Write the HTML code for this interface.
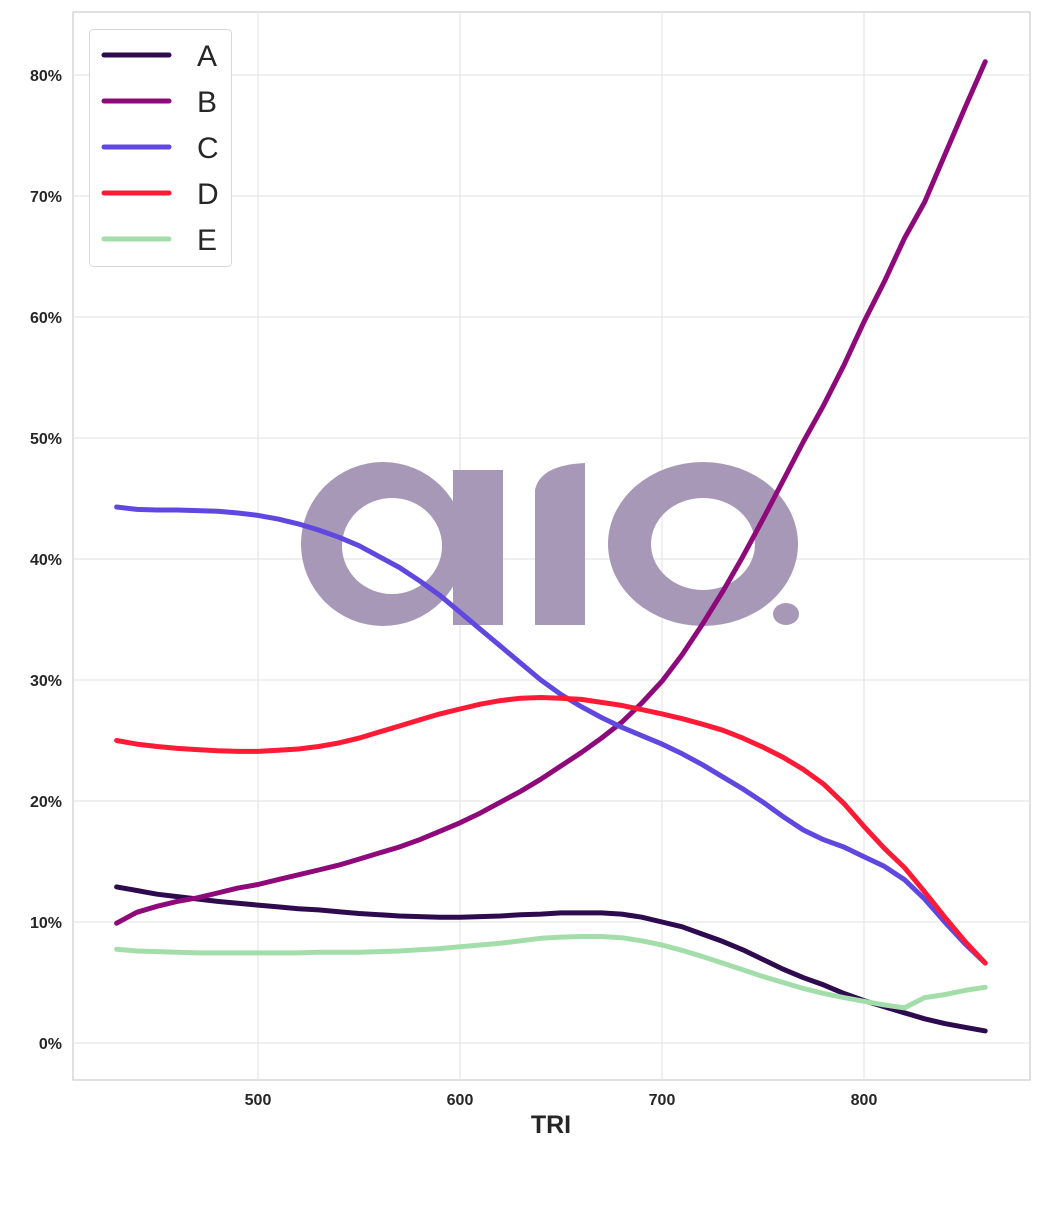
<!DOCTYPE html>
<html><head><meta charset="utf-8"><style>
body{margin:0;background:#fff;font-family:"Liberation Sans","DejaVu Sans",sans-serif}
</style></head><body>
<svg id="chart" width="1040" height="1200" xmlns="http://www.w3.org/2000/svg">
<rect x="73" y="12" width="957" height="1068" fill="#fff" stroke="#cccccc" stroke-width="1.2"/>
<g id="grid"></g>
<g id="watermark" fill="#a898b8" fill-rule="evenodd">
<path d="M383,462 a82,82 0 1 0 0,164 a82,82 0 1 0 0,-164 Z M392,498 a50,48 0 1 1 0,96 a50,48 0 1 1 0,-96 Z" />
<rect x="453" y="470" width="50" height="155"/>
<rect x="300" y="462" width="153" height="50" fill="none"/>
<path d="M535,490 Q540,465 585,463 L585,625 L535,625 Z"/>
<path d="M703,462 a95,82 0 1 0 0,164 a95,82 0 1 0 0,-164 Z M703,498 a52,46 0 1 1 0,92 a52,46 0 1 1 0,-92 Z"/>
<ellipse cx="786" cy="614" rx="13" ry="11"/>
</g>
<g id="series"></g>
<g id="xticks"></g>
<g id="yticks"></g>
<text x="551" y="1133" font-size="25" font-weight="bold" fill="#262626" text-anchor="middle">TRI</text>
<g id="legend">
<rect x="89.5" y="29.5" width="142" height="237" rx="4" fill="#fff" stroke="#d8d8d8"/>
</g>
</svg>
<script>
const xs=[430,440,450,460,470,480,490,500,510,520,530,540,550,560,570,580,590,600,610,620,630,640,650,660,670,680,690,700,710,720,730,740,750,760,770,780,790,800,810,820,830,840,850,860];
const seriesA=[12.9,12.6,12.3,12.1,11.9,11.7,11.55,11.4,11.25,11.1,11.0,10.85,10.7,10.6,10.5,10.45,10.4,10.4,10.45,10.5,10.6,10.65,10.75,10.75,10.75,10.65,10.4,10.0,9.6,9.0,8.4,7.7,6.9,6.1,5.4,4.8,4.1,3.5,3.0,2.5,2.0,1.6,1.3,1.0];
const seriesB=[9.9,10.8,11.3,11.7,12.0,12.4,12.8,13.1,13.5,13.9,14.3,14.7,15.2,15.7,16.2,16.8,17.5,18.2,19.0,19.9,20.8,21.8,22.9,24.0,25.2,26.5,28.1,29.9,32.1,34.6,37.3,40.2,43.3,46.5,49.7,52.7,56.0,59.6,62.9,66.5,69.5,73.4,77.3,81.1];
const seriesC=[44.3,44.1,44.05,44.05,44.0,43.95,43.8,43.6,43.3,42.9,42.4,41.8,41.1,40.2,39.3,38.2,37.0,35.6,34.2,32.8,31.4,30.0,28.8,27.8,26.9,26.1,25.4,24.7,23.9,23.0,22.0,21.0,19.9,18.7,17.6,16.8,16.2,15.4,14.6,13.5,11.9,10.0,8.2,6.6];
const seriesD=[25.0,24.7,24.5,24.35,24.25,24.15,24.1,24.1,24.2,24.3,24.5,24.8,25.2,25.7,26.2,26.7,27.2,27.6,28.0,28.3,28.5,28.55,28.5,28.4,28.15,27.9,27.55,27.2,26.8,26.35,25.85,25.2,24.45,23.6,22.6,21.4,19.8,17.9,16.1,14.5,12.5,10.4,8.4,6.6];
const seriesE=[7.75,7.6,7.55,7.5,7.45,7.45,7.45,7.45,7.45,7.45,7.5,7.5,7.5,7.55,7.6,7.7,7.8,7.95,8.1,8.25,8.45,8.65,8.75,8.8,8.8,8.7,8.45,8.1,7.65,7.15,6.6,6.05,5.5,5.0,4.5,4.1,3.75,3.45,3.15,2.9,3.75,4.0,4.35,4.6];
const seriesNames=["A","B","C","D","E"];
const xTicks=[500,600,700,800];
const yTicks=[0,10,20,30,40,50,60,70,80];
const colors=["#2e0a4f","#8e0a7a","#5f47e0","#ff1a35","#a3deaa"];
const NS="http://www.w3.org/2000/svg";
const xS=v=>258+(v-500)*2.02;
const yS=v=>1043-v*12.1;
function mk(tag,attrs,parent){const e=document.createElementNS(NS,tag);for(const k in attrs)e.setAttribute(k,attrs[k]);parent.appendChild(e);return e;}
const grid=document.getElementById('grid'),xt=document.getElementById('xticks'),yt=document.getElementById('yticks');
xTicks.forEach(t=>{
 const l=mk('line',{x1:xS(t),x2:xS(t),y1:12,y2:1080,stroke:'#e6e6e6','stroke-width':1.2},grid);
 
 
 const tx=mk('text',{x:xS(t),y:1105,'font-size':16,'font-weight':'bold',fill:'#262626','text-anchor':'middle'},xt);
 
 
 tx.textContent=t;
});
yTicks.forEach(t=>{
 const l=mk('line',{x1:73,x2:1030,y1:yS(t),y2:yS(t),stroke:'#e6e6e6','stroke-width':1.2},grid);
 
 
 const tx=mk('text',{x:62,y:yS(t)+6,'font-size':16,'font-weight':'bold',fill:'#262626','text-anchor':'end'},yt);
 
 
 tx.textContent=t+'%';
});
const allSeries=[seriesA,seriesB,seriesC,seriesD,seriesE];
const sg=document.getElementById('series'),lg=document.getElementById('legend');
allSeries.forEach((s,i)=>{
 const d=s.map((v,j)=>(j?'L':'M')+xS(xs[j]).toFixed(1)+','+yS(v).toFixed(1)).join('');
 const p=mk('path',{d:d,fill:'none',stroke:colors[i],'stroke-width':5,'stroke-linejoin':'round','stroke-linecap':'round'},sg);
 
 
 const y=55+i*46;
 const g=mk('g',{},lg);
 
 
 mk('line',{x1:104,x2:169,y1:y,y2:y,stroke:colors[i],'stroke-width':5,'stroke-linecap':'round'},g);
 const t=mk('text',{x:197,y:y+11,'font-size':30,fill:'#262626'},g);
 t.textContent=seriesNames[i];
});
</script>
</body></html>
